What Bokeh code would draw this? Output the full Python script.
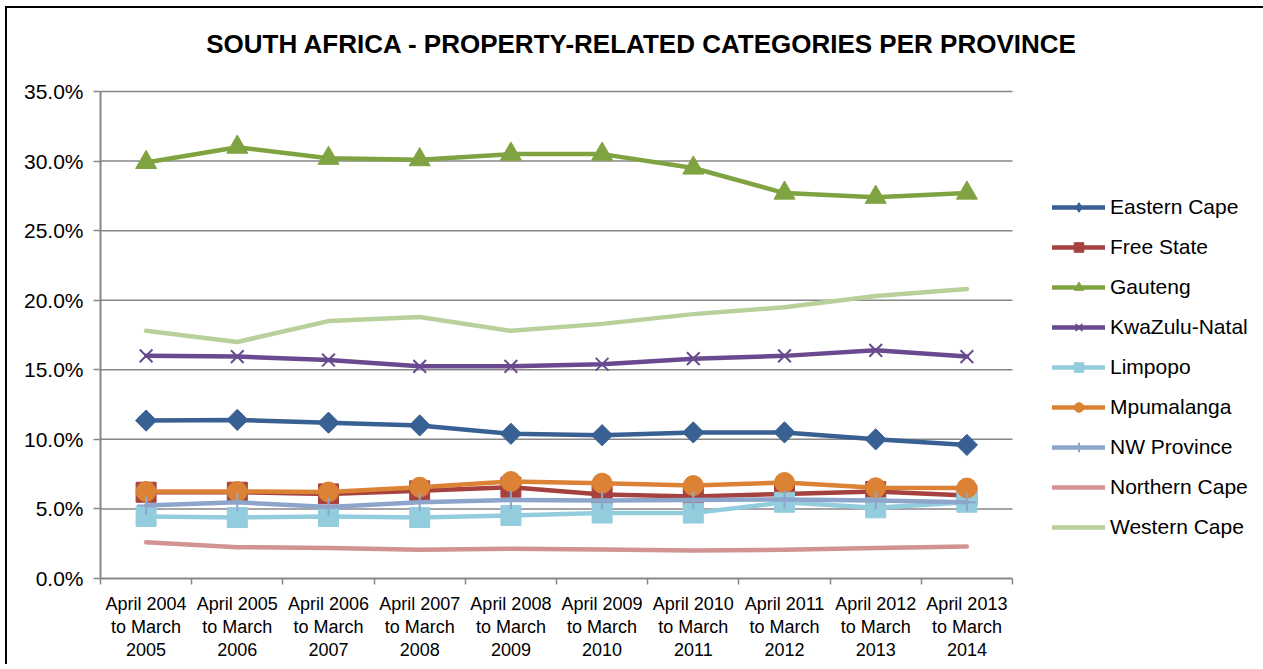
import math
from bokeh.plotting import figure
from bokeh.models import (Range1d, FixedTicker, PrintfTickFormatter, CustomJSTickFormatter,
                          Legend, LegendItem, ColumnDataSource, Label)
from bokeh.embed import file_html
from bokeh.resources import INLINE

title_text = "SOUTH AFRICA - PROPERTY-RELATED CATEGORIES PER PROVINCE"

periods = ["April 2004\nto March\n2005", "April 2005\nto March\n2006", "April 2006\nto March\n2007",
           "April 2007\nto March\n2008", "April 2008\nto March\n2009", "April 2009\nto March\n2010",
           "April 2010\nto March\n2011", "April 2011\nto March\n2012", "April 2012\nto March\n2013",
           "April 2013\nto March\n2014"]

eastern_cape = [11.35, 11.4, 11.2, 11.0, 10.4, 10.3, 10.5, 10.5, 10.0, 9.6]
free_state = [6.2, 6.2, 6.08, 6.3, 6.56, 6.04, 5.9, 6.08, 6.25, 5.96]
gauteng = [29.9, 31.0, 30.2, 30.1, 30.5, 30.5, 29.5, 27.7, 27.4, 27.7]
kwazulu_natal = [16.0, 15.95, 15.7, 15.25, 15.25, 15.4, 15.8, 16.0, 16.4, 15.95]
limpopo = [4.46, 4.38, 4.46, 4.38, 4.53, 4.7, 4.7, 5.48, 5.08, 5.48]
mpumalanga = [6.25, 6.25, 6.22, 6.56, 6.97, 6.85, 6.68, 6.9, 6.52, 6.5]
nw_province = [5.25, 5.48, 5.13, 5.48, 5.65, 5.6, 5.65, 5.68, 5.6, 5.48]
northern_cape = [2.61, 2.25, 2.2, 2.06, 2.13, 2.08, 2.01, 2.06, 2.2, 2.3]
western_cape = [17.8, 17.0, 18.5, 18.8, 17.8, 18.3, 19.0, 19.5, 20.3, 20.8]

y_ticks = [0, 5, 10, 15, 20, 25, 30, 35]

# name, values, colour, plot marker, plot size, angle, legend marker, legend size
series = [
    ("Eastern Cape", eastern_cape, "#386092", "square", 15, math.pi / 4, "diamond", 14),
    ("Free State", free_state, "#A5423F", "square", 20, 0, "square", 11),
    ("Gauteng", gauteng, "#80A342", "triangle", 21, 0, "triangle", 12),
    ("KwaZulu-Natal", kwazulu_natal, "#694A8E", "x", 18, 0, "x", 10),
    ("Limpopo", limpopo, "#93CDDD", "square", 20, 0, "square", 12),
    ("Mpumalanga", mpumalanga, "#DC8235", "circle", 20, 0, "circle", 12),
    ("NW Province", nw_province, "#8EA5CB", "cross", 18, 0, "cross", 11),
    ("Northern Cape", northern_cape, "#D39393", None, 0, 0, None, 0),
    ("Western Cape", western_cape, "#B8D09A", None, 0, 0, None, 0),
]

FONT = "Liberation Sans"
GRAY = "#878787"

n = len(periods)
y_max = y_ticks[-1]
xs = [i + 0.5 for i in range(n)]
PLOT_W, FRAME_W = 912.0, 1158.0   # category area / whole frame width (px)
PLOT_H, FRAME_H = 487.0, 570.0    # value area / whole frame height (px)

p = figure(width=1262, height=658, output_backend="svg", toolbar_location=None,
           x_range=Range1d(0, n * FRAME_W / PLOT_W),
           y_range=Range1d(0, y_max * FRAME_H / PLOT_H),
           min_border_left=93, min_border_right=11, min_border_top=0, min_border_bottom=88)
p.styles = {"margin-left": "7px", "margin-top": "8px",
            "box-shadow": "-2px -2px 0 0 #000"}
p.title.visible = False
p.outline_line_color = None
p.background_fill_color = "white"
p.border_fill_color = "white"

p.add_layout(Label(x=541.5, y=535, x_units="screen", y_units="screen", text=title_text,
                   text_font=FONT, text_font_size="26px", text_font_style="bold",
                   text_color="#000000", text_align="center", text_baseline="alphabetic"))

p.xgrid.grid_line_color = None
p.ygrid.grid_line_color = None
# horizontal gridlines spanning only the category area
p.segment(x0=[0] * (len(y_ticks) - 1), x1=[n] * (len(y_ticks) - 1),
          y0=y_ticks[1:], y1=y_ticks[1:], line_color=GRAY, line_width=1.5)

yax = p.yaxis[0]
yax.bounds = (0, y_max)
yax.ticker = FixedTicker(ticks=y_ticks)
yax.formatter = PrintfTickFormatter(format="%.1f%%")
yax.axis_line_color = GRAY
yax.axis_line_width = 2
yax.major_tick_line_color = GRAY
yax.major_tick_line_width = 1.5
yax.major_tick_out = 7
yax.major_tick_in = 0
yax.minor_tick_line_color = None
yax.major_label_text_font = FONT
yax.major_label_text_font_size = "21px"
yax.major_label_text_color = "#000000"
yax.major_label_standoff = 10

xax = p.xaxis[0]
xax.bounds = (0, n)
xax.ticker = FixedTicker(ticks=xs, minor_ticks=list(range(n + 1)))
xax.formatter = CustomJSTickFormatter(args=dict(labels=periods),
                                      code="return labels[Math.floor(tick)];")
xax.axis_line_color = GRAY
xax.axis_line_width = 2
xax.major_tick_line_color = None
xax.minor_tick_line_color = GRAY
xax.minor_tick_line_width = 1.5
xax.minor_tick_out = 6
xax.minor_tick_in = 0
xax.major_label_text_font = FONT
xax.major_label_text_font_size = "18px"
xax.major_label_text_color = "#000000"
xax.major_label_text_line_height = 1.15
xax.major_label_standoff = 9

nan_y = [float("nan")] * n
items = []
for name, vals, color, marker, size, angle, leg_marker, leg_size in series:
    src = ColumnDataSource(dict(x=xs, y=vals))
    r_line = p.line("x", "y", source=src, line_color=color, line_width=4.5,
                    line_join="round", line_cap="round")
    rends = [r_line]
    if marker is not None:
        leg_src = ColumnDataSource(dict(x=xs, y=nan_y))
        if marker in ("x", "cross"):
            kw = dict(line_color=color, line_width=2, fill_color=None)
        else:
            kw = dict(line_color=color, fill_color=color, line_width=1)
        p.scatter("x", "y", source=src, marker=marker, size=size, angle=angle, **kw)
        r_leg = p.scatter("x", "y", source=leg_src, marker=leg_marker, size=leg_size, **kw)
        rends.append(r_leg)
    items.append(LegendItem(label=name, renderers=rends))

legend = Legend(items=items, location=(952, 39), orientation="vertical",
                glyph_width=53, glyph_height=24, label_height=24, spacing=16,
                label_standoff=5, padding=0, margin=0,
                label_text_font=FONT, label_text_font_size="21px", label_text_color="#000000",
                border_line_color=None, background_fill_alpha=0)
p.add_layout(legend, "center")

open("out.html", "w").write(file_html(p, INLINE))
